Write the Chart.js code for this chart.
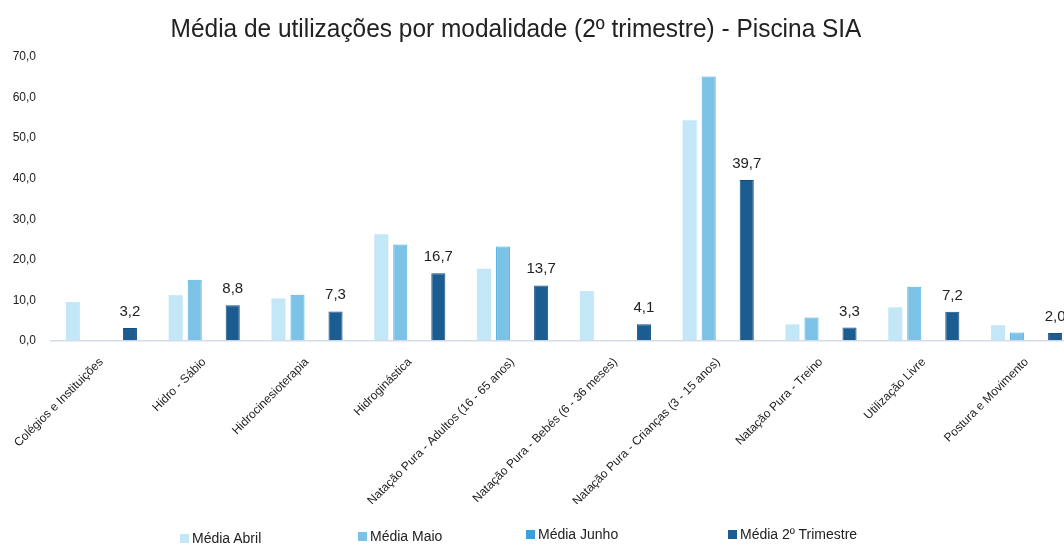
<!DOCTYPE html>
<html>
<head>
<meta charset="utf-8">
<script src="https://cdn.jsdelivr.net/npm/chart.js@4"></script>
<style>
  body { margin: 0; background: #fff; overflow: hidden; width: 1064px; height: 545px; position: relative; }
  #wrap { position: absolute; left: 0; top: 0; width: 1082px; height: 545px; }
  .narrow { font-family: "Liberation Sans Narrow", "Arial Narrow", "Liberation Sans", sans-serif; color: #222; }
  #title { position: absolute; top: 13px; left: 516px; transform: translateX(-50%) scaleX(0.94); font-size: 26px; white-space: nowrap; }
  #legend { position: absolute; top: 526px; left: 0; width: 1064px; height: 20px; }
  .item { position: absolute; top: 0; font-size: 14px; white-space: nowrap; }
  .item span { display: inline-block; width: 9px; height: 9px; margin-right: 3px; }
</style>
</head>
<body>
<div id="wrap"><canvas id="chart" width="1082" height="545"></canvas></div>
<div id="title" class="narrow">Média de utilizações por modalidade (2º trimestre) - Piscina SIA</div>
<div id="legend" class="narrow"></div>
<script>
// Categories and monthly averages
const categories = [
  'Colégios e Instituições',
  'Hidro - Sábio',
  'Hidrocinesioterapia',
  'Hidroginástica',
  'Natação Pura - Adultos (16 - 65 anos)',
  'Natação Pura - Bebés (6 - 36 meses)',
  'Natação Pura - Crianças (3 - 15 anos)',
  'Natação Pura - Treino',
  'Utilização Livre',
  'Postura e Movimento'
];
const mediaAbril = [9.6, 11.3, 10.5, 26.3, 17.8, 12.3, 54.4, 4.1, 8.3, 3.9];
const mediaMaio = [0, 15.1, 11.4, 23.8, 23.3, 0, 65.2, 5.8, 13.4, 2.1];
const mediaJunho = [0, 0, 0, 0, 0, 0, 0, 0, 0, 0];
const mediaTrimestre = [3.2, 8.8, 7.3, 16.7, 13.7, 4.1, 39.7, 3.3, 7.2, 2.0];
const yTicks = [0, 10, 20, 30, 40, 50, 60, 70];

const seriesNames = ['Média Abril', 'Média Maio', 'Média Junho', 'Média 2º Trimestre'];
const seriesColors = ['#c4e7f8', '#7cc2e6', '#36a3dc', '#1b5c91'];
const seriesBorders = ['#b2e0f6', '#4cb0e2', '#2196d4', '#174f80'];
const seriesData = [mediaAbril, mediaMaio, mediaJunho, mediaTrimestre];

const fontName = '"Liberation Sans Narrow", "Arial Narrow", "Liberation Sans", sans-serif';
const fmt = v => v.toFixed(1).replace('.', ',');

// value labels over the trimester bars
const valueLabels = {
  id: 'valueLabels',
  afterDatasetsDraw(chart) {
    const ctx = chart.ctx;
    const meta = chart.getDatasetMeta(3);
    ctx.save();
    ctx.font = '15px ' + fontName;
    ctx.fillStyle = '#222';
    ctx.textAlign = 'center';
    ctx.textBaseline = 'alphabetic';
    meta.data.forEach((bar, i) => {
      ctx.fillText(fmt(mediaTrimestre[i]), bar.x, bar.y - 12);
    });
    ctx.restore();
  }
};

const ctx = document.getElementById('chart').getContext('2d');
const chart = new Chart(ctx, {
  type: 'bar',
  data: {
    labels: categories,
    datasets: seriesData.map((d, i) => ({
      label: seriesNames[i],
      data: d,
      backgroundColor: seriesColors[i],
      borderColor: seriesBorders[i],
      borderWidth: i === 0 ? 0 : 1,
      categoryPercentage: 0.74,
      barPercentage: 0.74
    }))
  },
  options: {
    responsive: false,
    animation: false,
    layout: { padding: { top: 57, bottom: 41, left: 0, right: 4 } },
    plugins: {
      legend: { display: false },
      title: { display: false },
      tooltip: { enabled: false }
    },
    scales: {
      x: {
        grid: { display: false },
        border: { display: false },
        ticks: {
          font: { family: fontName, size: 12 },
          color: '#222',
          maxRotation: 45,
          minRotation: 45,
          autoSkip: false,
          padding: 6
        },
        afterFit(scale) { scale.height = 163; }
      },
      y: {
        min: 0,
        max: 70,
        afterBuildTicks(scale) { scale.ticks = yTicks.map(v => ({ value: v })); },
        grid: {
          drawTicks: false,
          color: c => c.tick && c.tick.value === 0 ? '#d6dcea' : 'rgba(0,0,0,0)',
          lineWidth: 1.5
        },
        border: { display: false },
        ticks: {
          font: { family: fontName, size: 12 },
          color: '#222',
          padding: 14,
          callback: v => fmt(v)
        },
        afterFit(scale) { scale.width = 50; }
      }
    }
  },
  plugins: [valueLabels]
});

// legend placed like the original
const legendLeft = [180, 358, 526, 728];
const legendTop = [4, 2, 0, 0];
const legend = document.getElementById('legend');
seriesNames.forEach((name, i) => {
  const el = document.createElement('div');
  el.className = 'item';
  el.style.left = legendLeft[i] + 'px';
  el.style.top = legendTop[i] + 'px';
  el.innerHTML = '<span style="background:' + seriesColors[i] + '"></span>' + name;
  legend.appendChild(el);
});
</script>
</body>
</html>
